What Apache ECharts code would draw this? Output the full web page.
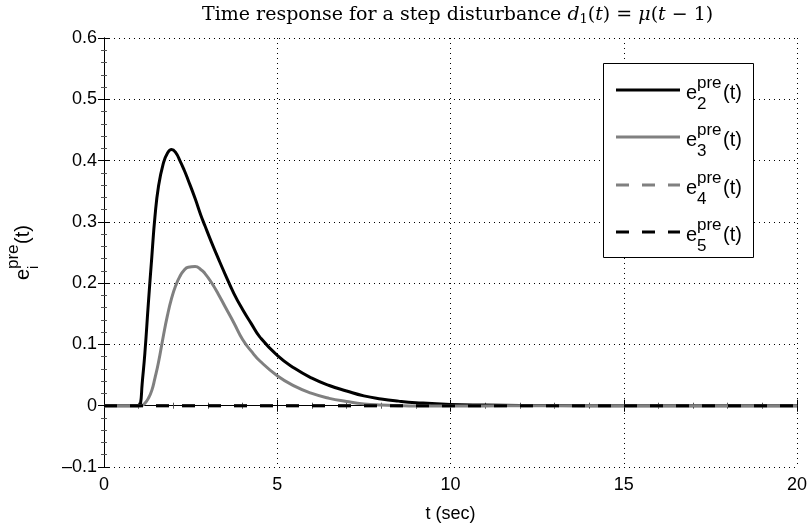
<!DOCTYPE html>
<html>
<head>
<meta charset="utf-8">
<script src="https://cdn.jsdelivr.net/npm/echarts@6/dist/echarts.min.js"></script>
<style>
html, body { margin: 0; padding: 0; background: #fff; }
#chart { width: 811px; height: 529px; }
</style>
</head>
<body>
<div id="chart"></div>
<script>
// time samples (sec) and the two responses
var tVals = [0, 1, 1.05, 1.1, 1.18, 1.28, 1.38, 1.47, 1.57, 1.71, 1.83, 1.95, 2.07, 2.19, 2.31, 2.43, 2.63, 2.8, 2.91, 3.1, 3.3, 3.5, 3.75, 4.0, 4.25, 4.5, 5, 5.5, 6, 6.5, 7, 7.5, 8, 8.5, 9, 10, 11, 12, 14, 16, 20];
var e2Vals = [0, 0, 0.002, 0.035, 0.086, 0.167, 0.243, 0.308, 0.357, 0.395, 0.412, 0.418, 0.413, 0.400, 0.385, 0.368, 0.338, 0.310, 0.294, 0.267, 0.240, 0.214, 0.183, 0.157, 0.134, 0.112, 0.082, 0.061, 0.045, 0.033, 0.024, 0.016, 0.011, 0.0075, 0.005, 0.002, 0.001, 0.0005, 0.0001, 0, 0];
var e3Vals = [0, 0, 0, 0.0005, 0.004, 0.012, 0.025, 0.045, 0.070, 0.113, 0.147, 0.175, 0.196, 0.211, 0.221, 0.226, 0.227, 0.222, 0.216, 0.201, 0.182, 0.161, 0.135, 0.108, 0.089, 0.073, 0.049, 0.032, 0.020, 0.012, 0.007, 0.003, 0.001, 0, -0.0005, -0.0005, -0.0003, -0.0002, 0, 0, 0];
var tZero = [0, 20];
var e4Vals = [0, 0];
var e5Vals = [0, 0];

var legendSubs = ['2', '3', '4', '5'];
var lineColors = ['#000000', '#808080', '#808080', '#000000'];
var lineTypes = ['solid', 'solid', [13, 13], [13, 13]];

function pairs(xs, ys) {
    return xs.map(function (x, i) { return [x, ys[i]]; });
}

var FONT = 'Liberation Sans, Arial, sans-serif';
var chart = echarts.init(document.getElementById('chart'));

// legend drawn by hand so the stacked sup/subscripts work
var legendEls = [{
    type: 'rect',
    shape: { x: 603.5, y: 63.5, width: 150, height: 194 },
    style: { fill: '#fff', stroke: '#000', lineWidth: 1 },
    z: 100
}];
var rowY = [90, 137, 185, 232];
legendSubs.forEach(function (s, i) {
    var y = rowY[i];
    legendEls.push({
        type: 'line',
        shape: { x1: 616, y1: y, x2: 680, y2: y },
        style: { stroke: lineColors[i], lineWidth: 3, lineDash: lineTypes[i] === 'solid' ? null : lineTypes[i] },
        z: 101
    });
    legendEls.push({ type: 'text', x: 686, y: y + 13, z: 101,
        style: { text: 'e', font: '20px ' + FONT, fill: '#000', verticalAlign: 'bottom' } });
    legendEls.push({ type: 'text', x: 697, y: y + 2, z: 101,
        style: { text: 'pre', font: '17px ' + FONT, fill: '#000', verticalAlign: 'bottom' } });
    legendEls.push({ type: 'text', x: 697, y: y + 23, z: 101,
        style: { text: s, font: '17px ' + FONT, fill: '#000', verticalAlign: 'bottom' } });
    legendEls.push({ type: 'text', x: 723, y: y + 13, z: 101,
        style: { text: '(t)', font: '20px ' + FONT, fill: '#000', verticalAlign: 'bottom' } });
});

// rotated y axis name e_i^pre(t)
var yName = {
    type: 'group',
    x: 33, y: 280,
    rotation: Math.PI / 2,
    children: [
        { type: 'text', x: 0, y: 0, style: { text: 'e', font: '20px ' + FONT, fill: '#000', verticalAlign: 'bottom' } },
        { type: 'text', x: 11, y: -11, style: { text: 'pre', font: '17px ' + FONT, fill: '#000', verticalAlign: 'bottom' } },
        { type: 'text', x: 11, y: 8, style: { text: 'i', font: '15px ' + FONT, fill: '#000', verticalAlign: 'bottom' } },
        { type: 'text', x: 36, y: 0, style: { text: '(t)', font: '20px ' + FONT, fill: '#000', verticalAlign: 'bottom' } }
    ]
};

function baseAxis(extra) {
    var ax = {
        type: 'value',
        axisLine: { show: true, lineStyle: { color: '#000', width: 1 } },
        axisTick: { show: true, inside: true, length: 6, lineStyle: { color: '#000' } },
        minorTick: { show: true, length: 3, lineStyle: { color: '#555' } },
        axisLabel: { show: false },
        splitLine: { show: false }
    };
    for (var k in extra) ax[k] = extra[k];
    return ax;
}

var SERIF = 'DejaVu Serif';
chart.setOption({
    animation: false,
    backgroundColor: '#fff',
    title: {
        text: '{n|Time response for a step disturbance }{i|d}{sub|1}{n|(}{i|t}{n|) = }{i|μ}{n|(}{i|t}{n| − 1)}',
        left: 197,
        top: 0,
        textStyle: {
            rich: {
                n: { fontFamily: SERIF, fontSize: 19, color: '#000', fontWeight: 'normal' },
                i: { fontFamily: SERIF, fontSize: 19, color: '#000', fontStyle: 'italic', fontWeight: 'normal' },
                sub: { fontFamily: SERIF, fontSize: 13, color: '#000', padding: [8, 0, 0, 0], fontWeight: 'normal' }
            }
        }
    },
    grid: { left: 104, right: 14, top: 38, bottom: 62 },
    xAxis: [
        baseAxis({
            min: 0, max: 20, interval: 5,
            minorTick: { show: true, length: 3, splitNumber: 5, lineStyle: { color: '#555' } },
            axisLabel: { show: true, color: '#000', fontSize: 18, fontFamily: FONT, margin: 9 },
            splitLine: { show: true, lineStyle: { color: '#000', width: 1, type: [1, 4] } },
            name: 't (sec)', nameLocation: 'middle', nameGap: 38,
            nameTextStyle: { color: '#000', fontSize: 18, fontFamily: FONT }
        }),
        baseAxis({
            position: 'top', min: 0, max: 20, interval: 5,
            minorTick: { show: true, length: 3, splitNumber: 5, lineStyle: { color: '#555' } }
        })
    ],
    yAxis: [
        baseAxis({
            min: -0.1, max: 0.6, interval: 0.1,
            minorTick: { show: true, length: 3, splitNumber: 5, lineStyle: { color: '#555' } },
            axisLabel: {
                show: true, color: '#000', fontSize: 18, fontFamily: FONT, margin: 7,
                formatter: function (v) {
                    var s = (Math.round(v * 10) / 10).toString();
                    return s.replace('-', '\u2013');
                }
            },
            splitLine: { show: true, lineStyle: { color: '#000', width: 1, type: [1, 4] } }
        }),
        baseAxis({
            position: 'right', min: -0.1, max: 0.6, interval: 0.1,
            minorTick: { show: true, length: 3, splitNumber: 5, lineStyle: { color: '#555' } }
        })
    ],
    series: [
        {
            name: 'e2', type: 'line', data: pairs(tVals, e2Vals), showSymbol: false,
            smooth: true,
            lineStyle: { color: lineColors[0], width: 3, join: 'round' }
        },
        {
            name: 'e3', type: 'line', data: pairs(tVals, e3Vals), showSymbol: false,
            smooth: true,
            lineStyle: { color: lineColors[1], width: 3, join: 'round' }
        },
        {
            name: 'e4', type: 'line', data: pairs(tZero, e4Vals), showSymbol: false,
            lineStyle: { color: lineColors[2], width: 3, type: lineTypes[2] }
        },
        {
            name: 'e5', type: 'line', data: pairs(tZero, e5Vals), showSymbol: false,
            lineStyle: { color: lineColors[3], width: 3, type: lineTypes[3] }
        }
    ],
    graphic: legendEls.concat([yName])
});
</script>
</body>
</html>
